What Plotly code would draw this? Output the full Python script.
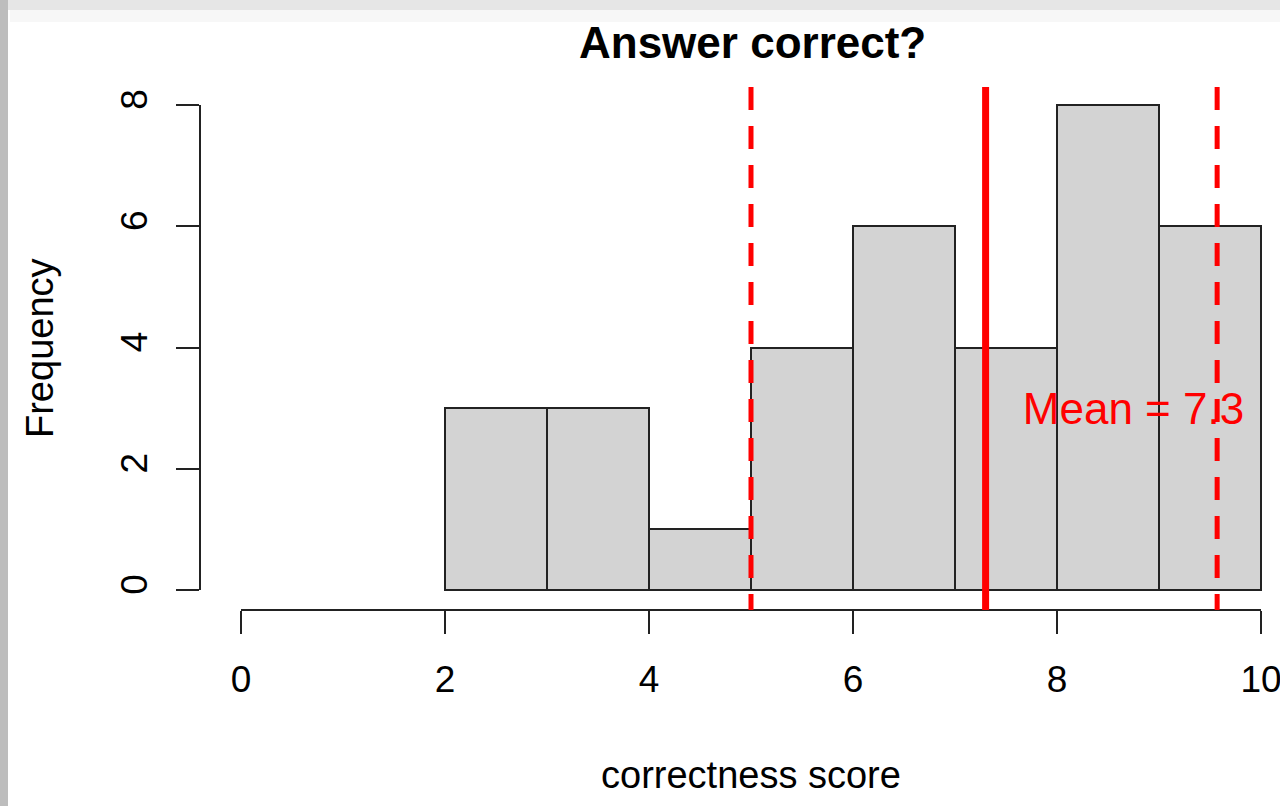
import plotly.graph_objects as go

# ---- data ----
bin_left = [2, 3, 4, 5, 6, 7, 8, 9]
bin_right = [3, 4, 5, 6, 7, 8, 9, 10]
counts = [3, 3, 1, 4, 6, 4, 8, 6]
x_ticks = [0, 2, 4, 6, 8, 10]
y_ticks = [0, 2, 4, 6, 8]
mean_value = 7.3
dashed_lines = [5.0, 9.57]
mean_label = "Mean = 7.3"
mean_label_pos = (8.75, 2.92)

W, H = 1280, 806
L, R, T, B = 200, 1280, 80, 610  # plot area in px


def px_x(p):
    return (p - L) / (R - L)


def px_y(p):
    return (B - p) / (B - T)


centers = [(a + b) / 2 for a, b in zip(bin_left, bin_right)]
widths = [b - a for a, b in zip(bin_left, bin_right)]

fig = go.Figure()
fig.add_trace(go.Bar(
    x=centers, y=counts, width=widths,
    marker=dict(color="#D3D3D3", line=dict(color="#222222", width=2)),
    hoverinfo="skip", showlegend=False,
))
fig.add_trace(go.Scatter(
    x=[mean_label_pos[0]], y=[mean_label_pos[1]], mode="text",
    text=[mean_label], textposition="middle center",
    textfont=dict(family="Liberation Sans, Arial", size=44, color="#FF0000"),
    hoverinfo="skip", showlegend=False,
))

shapes = []
# y axis line (0..8)
shapes.append(dict(type="line", xref="paper", yref="y", x0=0, x1=0,
                   y0=y_ticks[0], y1=y_ticks[-1], line=dict(color="#222222", width=2)))
# x axis line (0..10)
shapes.append(dict(type="line", xref="x", yref="paper", x0=x_ticks[0], x1=x_ticks[-1],
                   y0=0, y1=0, line=dict(color="#222222", width=2)))
# mean line
shapes.append(dict(type="line", xref="x", yref="paper", x0=mean_value, x1=mean_value,
                   y0=0, y1=px_y(87), layer="above",
                   line=dict(color="#FF0000", width=7)))
for v in dashed_lines:
    shapes.append(dict(type="line", xref="x", yref="paper", x0=v, x1=v,
                       y0=px_y(87), y1=0, layer="above",
                       line=dict(color="#FF0000", width=5, dash="23px,16px")))
# screenshot frame / shadow
shapes.append(dict(type="rect", xref="paper", yref="paper", x0=px_x(0), x1=px_x(1280),
                   y0=px_y(0), y1=px_y(10), fillcolor="#E6E6E6", line=dict(width=0),
                   layer="above"))
shapes.append(dict(type="rect", xref="paper", yref="paper", x0=px_x(10), x1=px_x(1280),
                   y0=px_y(10), y1=px_y(22), fillcolor="#F7F7F7", line=dict(width=0),
                   layer="below"))
shapes.append(dict(type="rect", xref="paper", yref="paper", x0=px_x(0), x1=px_x(8),
                   y0=px_y(0), y1=px_y(806), fillcolor="#BDBDBD", line=dict(width=0),
                   layer="above"))

annotations = [
    dict(text="<b>Answer correct?</b>", xref="paper", yref="paper",
         x=px_x(752), y=px_y(43), xanchor="center", yanchor="middle", showarrow=False,
         font=dict(family="Liberation Sans, Arial", size=44, color="black")),
    dict(text="correctness score", xref="paper", yref="paper",
         x=px_x(751), y=px_y(775), xanchor="center", yanchor="middle", showarrow=False,
         font=dict(family="Liberation Sans, Arial", size=38, color="black")),
    dict(text="Frequency", xref="paper", yref="paper", textangle=-90,
         x=px_x(40), y=px_y(348), xanchor="center", yanchor="middle", showarrow=False,
         font=dict(family="Liberation Sans, Arial", size=38, color="black")),
]

x0 = (L - 241) / 102
x1 = (R - 241) / 102
y0 = (590 - B) / 60.625
y1 = (590 - T) / 60.625

fig.update_layout(
    width=W, height=H,
    margin=dict(l=L, r=W - R, t=T, b=H - B, pad=0),
    paper_bgcolor="white", plot_bgcolor="white",
    shapes=shapes, annotations=annotations,
    bargap=0,
    font=dict(family="Liberation Sans, Arial", color="black"),
    xaxis=dict(range=[x0, x1], tickvals=x_ticks, ticktext=[str(t) for t in x_ticks],
               ticks="outside", ticklen=23, tickwidth=2, tickcolor="#222222",
               showgrid=False, zeroline=False, showline=False,
               tickfont=dict(size=37, family="Liberation Sans, Arial"),
               ticklabelstandoff=14, automargin=False, ticklabeloverflow="allow"),
    yaxis=dict(range=[y0, y1], tickvals=y_ticks, ticktext=[str(t) for t in y_ticks],
               ticks="outside", ticklen=23, tickwidth=2, tickcolor="#222222",
               showgrid=False, zeroline=False, showline=False, tickangle=-90,
               tickfont=dict(size=37, family="Liberation Sans, Arial"),
               ticklabelstandoff=14, automargin=False),
)

fig.write_html(
    "out.html",
    config={"displayModeBar": False},
    post_script="document.body.style.margin='0';document.body.style.overflow='hidden';",
)
